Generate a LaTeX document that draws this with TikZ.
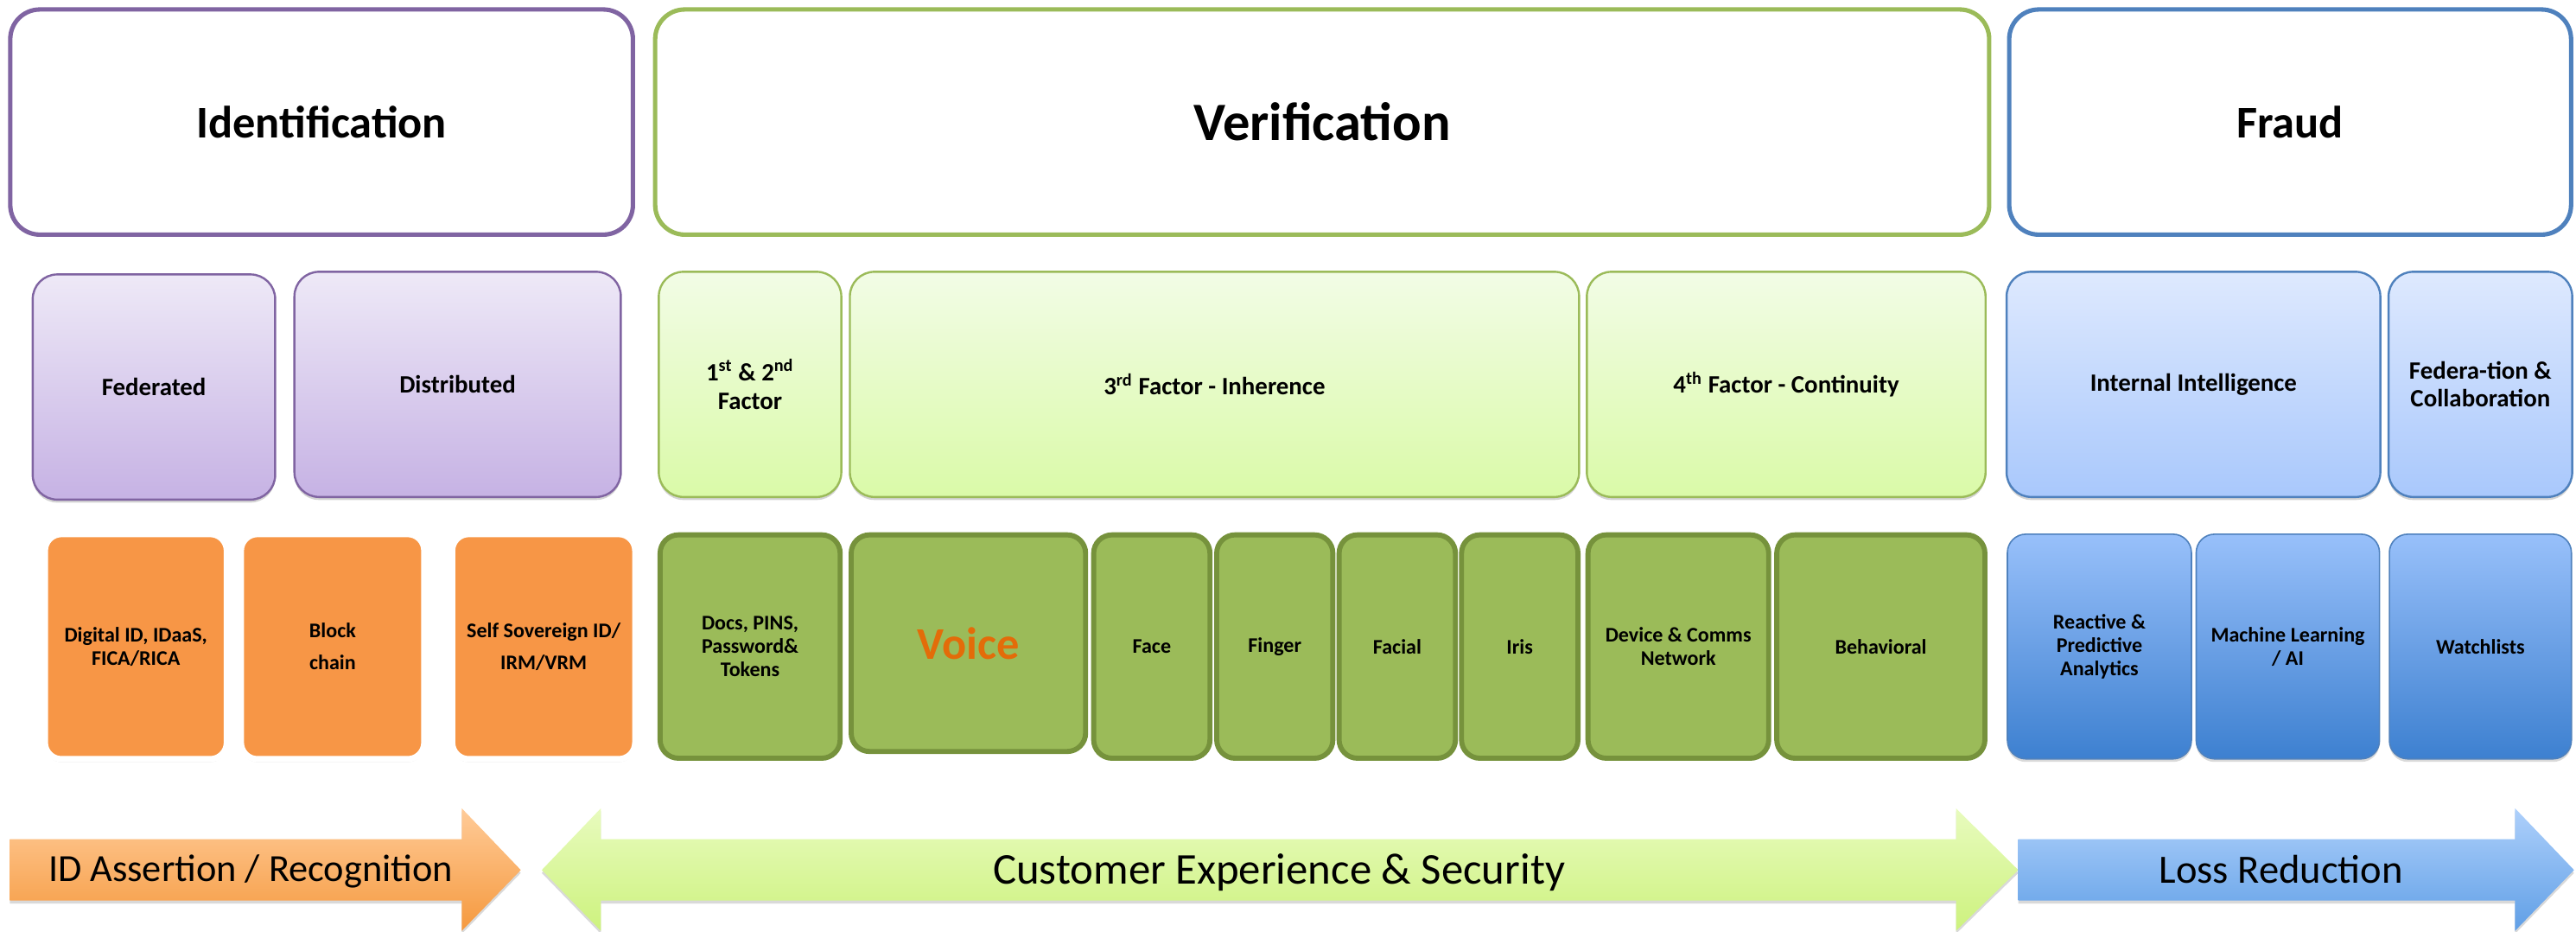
\documentclass[tikz,border=0pt]{standalone}
\usepackage{fontspec}
\setmainfont{Carlito}
\usetikzlibrary{shadows}
\definecolor{pu01}{HTML}{8064A2}
\definecolor{pu02}{HTML}{EEE9F7}
\definecolor{pu03}{HTML}{C6B2E4}
\definecolor{gr01}{HTML}{9BBB59}
\definecolor{gr02}{HTML}{F2FCE6}
\definecolor{gr03}{HTML}{DAFAA8}
\definecolor{gr04}{HTML}{76923C}
\definecolor{bl01}{HTML}{4F81BD}
\definecolor{bl02}{HTML}{DEE9FE}
\definecolor{bl03}{HTML}{A9C8FC}
\definecolor{bl04}{HTML}{98C0FA}
\definecolor{bl05}{HTML}{3D80D0}
\definecolor{or01}{HTML}{F79646}
\definecolor{or02}{HTML}{E36C09}
\definecolor{ar01}{HTML}{FFCB98}
\definecolor{ar02}{HTML}{F5993E}
\definecolor{ar03}{HTML}{E8FBBE}
\definecolor{ar04}{HTML}{CDF27E}
\definecolor{ar05}{HTML}{AED0FB}
\definecolor{ar06}{HTML}{609FE6}
\tikzset{
  sz/.style 2 args={minimum width=#1*0.025cm, minimum height=#2*0.025cm, inner sep=1pt},
  head/.style={rectangle, draw, line width=1.9pt, fill=white, rounded corners=4.5mm,
    font=\bfseries\fontsize{19.6}{23}\selectfont},
  tier/.style={rectangle, draw, line width=0.9pt, rounded corners=3.75mm, align=center,
    drop shadow={opacity=0.35, shadow xshift=0pt, shadow yshift=-1.3pt},
    font=\bfseries\fontsize{10.8}{12.2}\selectfont},
  purp/.style={tier, draw=pu01, top color=pu02, bottom color=pu03},
  lgrn/.style={tier, draw=gr01, top color=gr02, bottom color=gr03},
  lblu/.style={tier, draw=bl01, top color=bl02, bottom color=bl03},
  leaf/.style={rectangle, align=center, font=\bfseries\fontsize{9}{10}\selectfont},
  orng/.style={leaf, fill=or01, draw=white, line width=2.6pt, rounded corners=2.5mm,
    drop shadow={opacity=0.3, shadow xshift=0pt, shadow yshift=-1.3pt}},
  dgrn/.style={leaf, fill=gr01, draw=gr04, line width=2.2pt, rounded corners=2.8mm},
  dblu/.style={leaf, draw=bl01, line width=0.6pt, top color=bl04, bottom color=bl05,
    rounded corners=2.8mm, drop shadow={opacity=0.3, shadow xshift=0pt, shadow yshift=-1.3pt}},
  flow/.style={font=\fontsize{#1}{#1}\selectfont},
  band/.style={drop shadow={opacity=0.3, shadow xshift=0pt, shadow yshift=-1.3pt}}
}
\begin{document}
\begin{tikzpicture}[x=0.025cm, y=-0.025cm]
\useasboundingbox (0,0) rectangle (1568,567);
% top row
\node[head, draw=pu01, sz={379}{137}] (ident) at (195.75,74.25) {Identification};
\node[head, draw=gr01, sz={812}{137}, font=\bfseries\fontsize{23.4}{27}\selectfont] (verif) at (804.8,74.25) {Verification};
\node[head, draw=bl01, sz={342}{137}] (fraud) at (1394,74.25) {Fraud};
% middle row
\node[purp, sz={147.6}{137}] (fed) at (93.7,235.45) {Federated};
\node[purp, sz={198.7}{137}] (dist) at (278.55,233.85) {Distributed};
\node[lgrn, sz={111.1}{137}] (fac12) at (456.55,233.85) {1\textsuperscript{st} \& 2\textsuperscript{nd}\\Factor};
\node[lgrn, sz={443.9}{137}] (fac3) at (739.25,233.85) {3\textsuperscript{rd} Factor - Inherence};
\node[lgrn, sz={242.7}{137}] (fac4) at (1087.25,233.85) {4\textsuperscript{th} Factor - Continuity};
\node[lblu, sz={227.5}{137}] (intel) at (1335.15,233.85) {Internal Intelligence};
\node[lblu, sz={111.8}{137}] (collab) at (1509.8,233.85) {Federa-tion \&\\Collaboration};
% bottom row
\node[orng, sz={110.6}{136.8}] (digid) at (82.7,393.4) {Digital ID, IDaaS,\\FICA/RICA};
\node[orng, sz={111.5}{136.8}] (blkch) at (202.45,393.4) {Block\\[4pt]chain};
\node[orng, sz={111.3}{136.8}] (ssid) at (330.95,393.4) {Self Sovereign ID/\\[4pt]IRM/VRM};
\node[dgrn, sz={109.6}{135.9}] (docs) at (456.6,393.35) {Docs, PINS,\\Password\&\\Tokens};
\node[dgrn, sz={142.7}{131.8}, font=\bfseries\fontsize{19.6}{22}\selectfont, text=or02] (voice) at (589.45,391.3) {Voice};
\node[dgrn, sz={70.8}{135.9}] (face) at (701.1,393.35) {Face};
\node[dgrn, sz={70.7}{135.9}] (finger) at (775.95,393.35) {Finger};
\node[dgrn, sz={70.8}{135.9}] (facial) at (850.5,393.35) {Facial};
\node[dgrn, sz={70.9}{135.9}] (iris) at (925.05,393.35) {Iris};
\node[dgrn, sz={110}{135.9}] (devnet) at (1021.6,393.35) {Device \& Comms\\Network};
\node[dgrn, sz={126.7}{135.9}] (behav) at (1144.85,393.35) {Behavioral};
\node[dblu, sz={112}{136.7}] (react) at (1277.9,393.35) {Reactive \&\\Predictive\\Analytics};
\node[dblu, sz={111.6}{136.7}] (mlai) at (1392.6,393.35) {Machine Learning\\/ AI};
\node[dblu, sz={110.8}{136.7}] (watch) at (1509.8,393.35) {Watchlists};
% banner arrows
\shade[band, top color=ar01, bottom color=ar02] (6,510.6) -- (281.1,510.6) -- (281.1,491.8) -- (317,529.3)
  -- (281.1,566.3) -- (281.1,547.9) -- (6,547.9) -- cycle;
\shade[band, top color=ar03, bottom color=ar04] (329.8,529.3) -- (365.7,491.8) -- (365.7,510.6) -- (1190.6,510.6)
  -- (1190.6,491.8) -- (1228.5,529.3) -- (1190.6,566.3) -- (1190.6,547.9) -- (365.7,547.9) -- (365.7,566.3) -- cycle;
\shade[band, top color=ar05, bottom color=ar06] (1228.5,510.6) -- (1530.9,510.6) -- (1530.9,491.8) -- (1566.8,529.3)
  -- (1530.9,566.3) -- (1530.9,547.9) -- (1228.5,547.9) -- cycle;
\node[flow=16.6] (idtxt) at (152.6,530) {ID Assertion / Recognition};
\node[flow=19] (cxtxt) at (778.5,531) {Customer Experience \& Security};
\node[flow=17.4] (losstxt) at (1388.5,529) {Loss Reduction};
\end{tikzpicture}
\end{document}
